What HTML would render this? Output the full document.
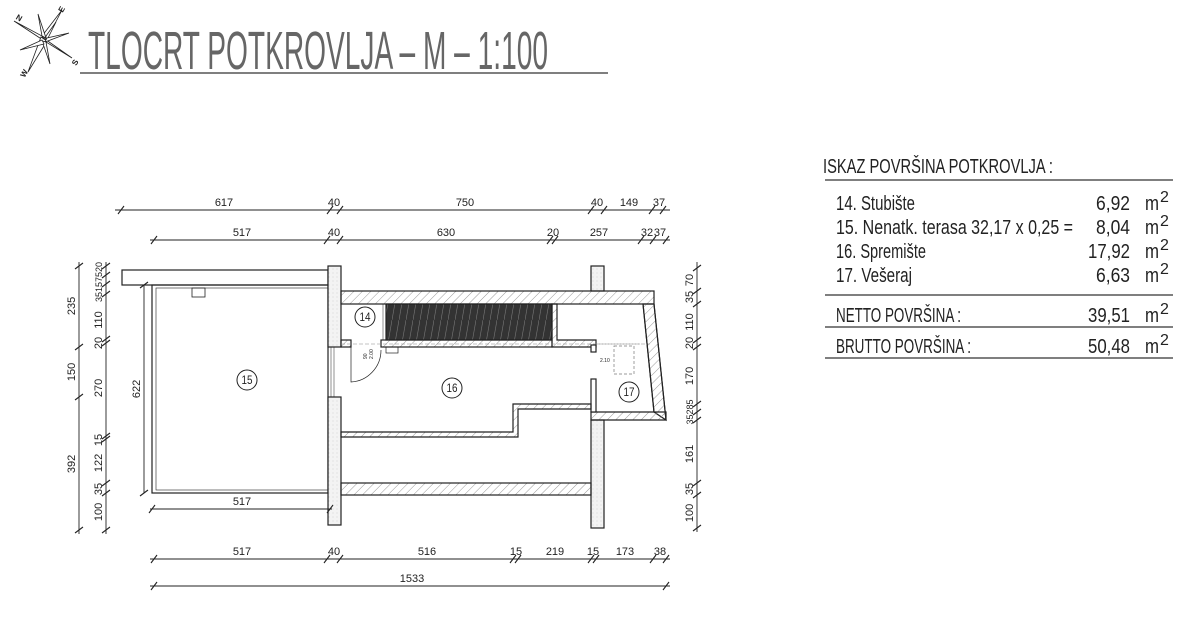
<!DOCTYPE html>
<html><head><meta charset="utf-8"><style>
html,body{margin:0;padding:0;background:#fff;}
svg{display:block;}
text{font-family:"Liberation Sans",sans-serif;fill:#222;}
</style></head><body>
<svg width="1200" height="629" viewBox="0 0 1200 629" xmlns="http://www.w3.org/2000/svg">
<defs>
<pattern id="h" width="6" height="6" patternUnits="userSpaceOnUse" patternTransform="rotate(45)">
<line x1="0" y1="0" x2="0" y2="6" stroke="#999" stroke-width="1"/>
</pattern>
<pattern id="st" width="7" height="40" patternUnits="userSpaceOnUse">
<rect width="7" height="40" fill="#333"/>
<line x1="0" y1="40" x2="7" y2="0" stroke="#777" stroke-width="0.6"/>
</pattern>
<pattern id="dots" width="4" height="4" patternUnits="userSpaceOnUse">
<rect width="4" height="4" fill="#f3f3f3"/><circle cx="1" cy="1" r="0.4" fill="#aaa"/>
</pattern>
</defs>

<!-- compass -->
<g stroke="#222" stroke-width="0.8" fill="#fff">
<polygon points="14,21 42,36 46,42" />
<polygon points="62,10 42,36 47,39"/>
<polygon points="72,58 46,42 42,37"/>
<polygon points="28,72 47,41 41,37"/>
<polygon points="38,14 42,36 46,38"/>
<polygon points="56,22 46,36 46,42"/>
<polygon points="69,33 47,38 45,42"/>
<polygon points="50,64 46,42 42,41"/>
<polygon points="20,50 42,40 44,44"/>
</g>
<text x="16" y="20" font-size="8" font-weight="bold" transform="rotate(30 18 18)">N</text>
<text x="58" y="11" font-size="8" font-weight="bold" transform="rotate(-60 62 8)">E</text>
<text x="72" y="65" font-size="8" font-weight="bold" transform="rotate(-60 75 62)">S</text>
<text x="20" y="76" font-size="8" font-weight="bold" transform="rotate(-60 24 73)">W</text>

<!-- title -->
<text x="88" y="69" font-size="54" textLength="460" lengthAdjust="spacingAndGlyphs" style="fill:#666">TLOCRT  POTKROVLJA  –  M  –  1:100</text>
<line x1="80" y1="73" x2="608" y2="73" stroke="#333" stroke-width="1.3"/>

<!-- table -->
<g font-size="20" style="fill:#333">
<text x="823" y="173" textLength="230" lengthAdjust="spacingAndGlyphs">ISKAZ POVRŠINA POTKROVLJA :</text>
<line x1="825" y1="180" x2="1173" y2="180" stroke="#333" stroke-width="1.3"/>
<text x="836" y="210" textLength="79" lengthAdjust="spacingAndGlyphs">14. Stubište</text>
<text x="836" y="234" textLength="237" lengthAdjust="spacingAndGlyphs">15. Nenatk. terasa 32,17 x 0,25 =</text>
<text x="836" y="258" textLength="90" lengthAdjust="spacingAndGlyphs">16. Spremište</text>
<text x="836" y="282" textLength="76" lengthAdjust="spacingAndGlyphs">17. Vešeraj</text>
<text x="1130" y="210" text-anchor="end" textLength="34" lengthAdjust="spacingAndGlyphs">6,92</text>
<text x="1130" y="234" text-anchor="end" textLength="34" lengthAdjust="spacingAndGlyphs">8,04</text>
<text x="1130" y="258" text-anchor="end" textLength="42" lengthAdjust="spacingAndGlyphs">17,92</text>
<text x="1130" y="282" text-anchor="end" textLength="34" lengthAdjust="spacingAndGlyphs">6,63</text>
<line x1="825" y1="295" x2="1173" y2="295" stroke="#333" stroke-width="1.3"/>
<text x="836" y="322" textLength="125" lengthAdjust="spacingAndGlyphs">NETTO POVRŠINA :</text>
<text x="1130" y="322" text-anchor="end" textLength="42" lengthAdjust="spacingAndGlyphs">39,51</text>
<line x1="825" y1="327" x2="1173" y2="327" stroke="#333" stroke-width="1.3"/>
<text x="836" y="353" textLength="135" lengthAdjust="spacingAndGlyphs">BRUTTO POVRŠINA :</text>
<text x="1130" y="353" text-anchor="end" textLength="42" lengthAdjust="spacingAndGlyphs">50,48</text>
<line x1="825" y1="358" x2="1173" y2="358" stroke="#333" stroke-width="1.3"/>
<g>
<text x="1145" y="210" textLength="14" lengthAdjust="spacingAndGlyphs">m</text><text x="1160" y="202" font-size="16">2</text>
<text x="1145" y="234" textLength="14" lengthAdjust="spacingAndGlyphs">m</text><text x="1160" y="226" font-size="16">2</text>
<text x="1145" y="258" textLength="14" lengthAdjust="spacingAndGlyphs">m</text><text x="1160" y="250" font-size="16">2</text>
<text x="1145" y="282" textLength="14" lengthAdjust="spacingAndGlyphs">m</text><text x="1160" y="274" font-size="16">2</text>
<text x="1145" y="322" textLength="14" lengthAdjust="spacingAndGlyphs">m</text><text x="1160" y="314" font-size="16">2</text>
<text x="1145" y="353" textLength="14" lengthAdjust="spacingAndGlyphs">m</text><text x="1160" y="345" font-size="16">2</text>
</g>
</g>

<!-- plan -->
<g stroke="#222" stroke-width="1.2" fill="none">
<rect x="122" y="270" width="206" height="15" fill="#fff"/>
<rect x="152" y="285" width="176" height="208"/>
<rect x="156" y="288" width="172" height="202" stroke-width="0.6"/>
<rect x="192" y="288" width="13" height="9" stroke-width="0.8"/>
<rect x="328" y="266" width="13" height="81" fill="url(#dots)"/>
<rect x="328" y="397" width="13" height="128" fill="url(#dots)"/>
<line x1="331" y1="347" x2="331" y2="397" stroke-width="0.5"/>
<line x1="334" y1="347" x2="334" y2="397" stroke-width="0.5"/>
<rect x="591" y="266" width="13" height="25" fill="url(#dots)"/>
<rect x="591" y="420" width="13" height="108" fill="url(#dots)"/>
<rect x="341" y="291" width="313" height="13" fill="url(#h)"/>
<rect x="386" y="304" width="166" height="36" fill="url(#st)"/>
<line x1="383" y1="304" x2="383" y2="340" stroke-width="0.5"/>
<polygon points="552,304 557,304 557,340 596,340 596,347 552,347" fill="url(#h)"/>
<rect x="341" y="340" width="10" height="7" fill="url(#h)"/>
<rect x="381" y="340" width="171" height="7" fill="url(#h)"/>
<rect x="386" y="347" width="12" height="6" stroke-width="0.7"/>
<line x1="341" y1="344" x2="650" y2="344" stroke-dasharray="4,2" stroke-width="0.6" stroke="#888"/>
<path d="M 351 347 L 351 382 A 32 32 0 0 0 381 350" stroke-width="0.7"/>
<polygon points="643,304 654,304 666,420 654,412" fill="url(#h)"/>
<polygon points="591,412 666,412 666,420 591,420" fill="url(#h)"/>
<path d="M 643 304 L 654 412 M 654 304 L 666 420" />
<rect x="591" y="345" width="5" height="7" fill="#fff"/>
<rect x="591" y="379" width="5" height="33" fill="#fff"/>
<rect x="614" y="346" width="20" height="28" stroke-dasharray="3,2" stroke-width="0.7" stroke="#777"/>
<line x1="596" y1="344" x2="640" y2="344" stroke-dasharray="4,2" stroke-width="0.6" stroke="#888"/>
<polygon points="341,432 513,432 513,404 591,404 591,409 518,409 518,437 341,437" fill="url(#h)"/>
<rect x="341" y="483" width="250" height="12" fill="url(#h)"/>
</g>
<text x="367" y="359" font-size="5" transform="rotate(-90 367 359)">90</text>
<text x="373" y="359" font-size="5" transform="rotate(-90 373 359)">2.00</text>
<text x="600" y="362" font-size="5">2.10</text>

<g stroke="#222" stroke-width="1" fill="#fff">
<circle cx="365" cy="317" r="10"/><circle cx="247" cy="380" r="10"/>
<circle cx="452" cy="388" r="10"/><circle cx="629" cy="392" r="10"/>
</g>
<g font-size="12" text-anchor="middle">
<text x="365" y="321" textLength="11" lengthAdjust="spacingAndGlyphs">14</text>
<text x="247" y="384" textLength="11" lengthAdjust="spacingAndGlyphs">15</text>
<text x="452" y="392" textLength="11" lengthAdjust="spacingAndGlyphs">16</text>
<text x="629" y="396" textLength="11" lengthAdjust="spacingAndGlyphs">17</text>
</g>

<g stroke="#222" stroke-width="0.9">
<line x1="115" y1="210" x2="670" y2="210"/>
<line x1="150" y1="240" x2="670" y2="240"/>
<line x1="150" y1="559" x2="670" y2="559"/>
<line x1="150" y1="586" x2="670" y2="586"/>
<line x1="79" y1="262" x2="79" y2="534"/>
<line x1="106" y1="262" x2="106" y2="534"/>
<line x1="144" y1="285" x2="144" y2="493"/>
<line x1="150" y1="509" x2="332" y2="509"/>
<line x1="697" y1="262" x2="697" y2="532"/>
</g>
<g stroke="#222" stroke-width="1.1">
<path d="M118 214 l6 -8 M327 214 l6 -8 M337 214 l6 -8 M588 214 l6 -8 M601 214 l6 -8 M649 214 l6 -8 M660 214 l6 -8"/>
<path d="M151 244 l6 -8 M324 244 l6 -8 M337 244 l6 -8 M547 244 l6 -8 M552 244 l6 -8 M638 244 l6 -8 M650 244 l6 -8 M663 244 l6 -8"/>
<path d="M151 563 l6 -8 M324 563 l6 -8 M337 563 l6 -8 M510 563 l6 -8 M515 563 l6 -8 M588 563 l6 -8 M593 563 l6 -8 M650 563 l6 -8 M663 563 l6 -8"/>
<path d="M151 590 l6 -8 M663 590 l6 -8"/>
<path d="M149 513 l6 -8 M327 513 l6 -8"/>
<path d="M75 269 l8 -6 M75 350 l8 -6 M75 400 l8 -6 M75 533 l8 -6"/>
<path d="M102 269 l8 -6 M102 278 l8 -6 M102 287 l8 -6 M102 297 l8 -6 M102 342 l8 -6 M102 346 l8 -6 M102 439 l8 -6 M102 442 l8 -6 M102 486 l8 -6 M102 496 l8 -6 M102 533 l8 -6"/>
<path d="M140 288 l8 -6 M140 496 l8 -6"/>
<path d="M693 271 l8 -6 M693 294 l8 -6 M693 307 l8 -6 M693 343 l8 -6 M693 350 l8 -6 M693 407 l8 -6 M693 415 l8 -6 M693 423 l8 -6 M693 486 l8 -6 M693 498 l8 -6 M693 531 l8 -6"/>
</g>
<g font-size="11">
<g text-anchor="middle">
<text x="224" y="206">617</text><text x="334" y="206">40</text><text x="465" y="206">750</text>
<text x="597" y="206">40</text><text x="629" y="206">149</text><text x="659" y="206">37</text>
<text x="242" y="236">517</text><text x="334" y="236">40</text><text x="446" y="236">630</text>
<text x="553" y="236">20</text><text x="599" y="236">257</text><text x="647" y="236">32</text><text x="660" y="236">37</text>
<text x="242" y="555">517</text><text x="334" y="555">40</text><text x="427" y="555">516</text>
<text x="516" y="555">15</text><text x="555" y="555">219</text><text x="593" y="555">15</text>
<text x="625" y="555">173</text><text x="660" y="555">38</text>
<text x="412" y="582">1533</text>
<text x="242" y="505">517</text>
</g>
<g text-anchor="middle">
<text transform="translate(75,306) rotate(-90)">235</text>
<text transform="translate(75,372) rotate(-90)">150</text>
<text transform="translate(75,464) rotate(-90)">392</text>
<text transform="translate(102,282) rotate(-90)" font-size="9">35157520</text>
<text transform="translate(102,320) rotate(-90)">110</text>
<text transform="translate(102,343) rotate(-90)">20</text>
<text transform="translate(102,388) rotate(-90)">270</text>
<text transform="translate(102,440) rotate(-90)">15</text>
<text transform="translate(102,463) rotate(-90)">122</text>
<text transform="translate(102,489) rotate(-90)">35</text>
<text transform="translate(102,512) rotate(-90)">100</text>
<text transform="translate(140,389) rotate(-90)">622</text>
<text transform="translate(693,280) rotate(-90)">70</text>
<text transform="translate(693,297) rotate(-90)">35</text>
<text transform="translate(693,322) rotate(-90)">110</text>
<text transform="translate(693,343) rotate(-90)">20</text>
<text transform="translate(693,376) rotate(-90)">170</text>
<text transform="translate(693,412) rotate(-90)" font-size="9">35285</text>
<text transform="translate(693,454) rotate(-90)">161</text>
<text transform="translate(693,489) rotate(-90)">35</text>
<text transform="translate(693,513) rotate(-90)">100</text>
</g>
</g>
</svg>
</body></html>
